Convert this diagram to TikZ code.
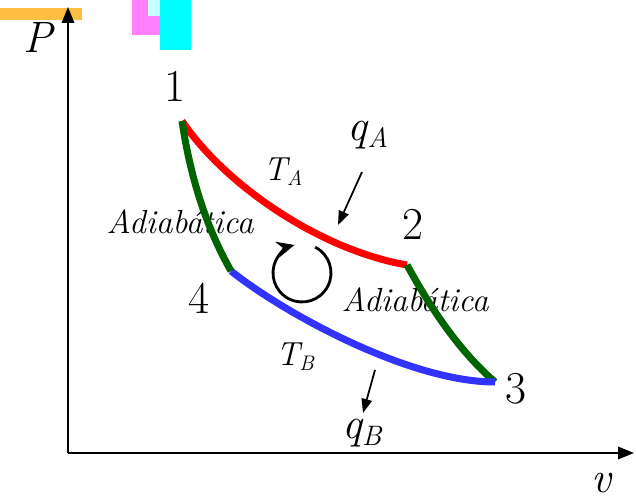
\documentclass[tikz,border=0pt]{standalone}
\usetikzlibrary{arrows.meta}
\definecolor{barorange}{RGB}{255,190,64}
\definecolor{boxpink}{RGB}{255,128,255}
\definecolor{boxcyan}{RGB}{0,255,255}
\definecolor{palecyan}{RGB}{200,255,255}
\definecolor{adiagreen}{RGB}{0,100,0}
\definecolor{isoblue}{RGB}{51,51,255}
\newcommand{\lowidx}[3]{#2\raisebox{-0.35ex}{\fontsize{#1}{#1}\selectfont #3}}

\begin{document}
\begin{tikzpicture}[x=0.02cm,y=0.02cm,
  axis/.style={line width=1.2pt,-{Triangle[length=9pt,width=7pt]}},
  process/.style={line width=4pt},
  heat/.style={line width=1pt,-{Triangle[length=8pt,width=6pt]}},
  lbl/.style={font=\fontsize{19}{22}\selectfont\itshape,inner sep=0pt},
  num/.style={font=\fontsize{26}{30}\selectfont,inner sep=0pt},
  big/.style={font=\fontsize{25}{28}\selectfont\itshape,inner sep=0pt}]
  \useasboundingbox (0,0) rectangle (636,502);
  \fill[barorange] (0,482) rectangle (82,494);
  \fill[boxpink] (132,467) rectangle (160,502);
  \fill[palecyan] (148,486) rectangle (160,502);
  \fill[boxcyan] (160,452) rectangle (191,502);

  \coordinate (o) at (68,49);
  \coordinate (ytop) at (68,495);
  \coordinate (xend) at (634,49);
  \draw[axis] (o) -- (ytop);
  \draw[axis] (o) -- (xend);
  \node[big] (P) at (38,464) {P};
  \node[big] (v) at (601,19) {v};

  \node[num] (n1) at (175,416) {1};
  \node[num] (n2) at (413,278) {2};
  \node[num] (n3) at (516,113) {3};
  \node[num] (n4) at (199,204) {4};
  \node[lbl] (ta) at (283,330) {\lowidx{12}{T}{A}};
  \node[lbl] (tb) at (295,145) {\lowidx{12}{T}{B}};
  \node[big] (qa) at (368,367) {\lowidx{16}{q}{A}};
  \node[big] (qb) at (362,69) {\lowidx{16}{q}{B}};
  \node[lbl] (adl) at (180,280) {Adiabática};
  \node[lbl] (adr) at (415,202) {Adiabática};

  \coordinate (s1) at (182,381);
  \coordinate (s2) at (407,237);
  \coordinate (s3) at (495,120);
  \coordinate (s4) at (231,231);
  \draw[process,red] (s1) .. controls (225,317) and (320,252) .. (s2);
  \draw[process,adiagreen] (s2) .. controls (422,210) and (452,157) .. (s3);
  \draw[process,isoblue] (s4) .. controls (285,188) and (410,120) .. (s3);
  \draw[process,adiagreen] (s1) .. controls (190,327) and (205,277) .. (s4);

  \coordinate (qain) at (362,330);
  \coordinate (qaend) at (338,277);
  \coordinate (qbout) at (375,132);
  \coordinate (qbend) at (363,89);
  \draw[heat] (qain) -- (qaend);
  \draw[heat] (qbout) -- (qbend);

  \coordinate (cyc) at (302,229);
  \draw[line width=1.6pt,-{Stealth[length=10pt,width=9pt]}] ([shift={(63:0.58cm)}]cyc)
    arc[start angle=63,end angle=-255,radius=0.58cm];
\end{tikzpicture}
\end{document}
